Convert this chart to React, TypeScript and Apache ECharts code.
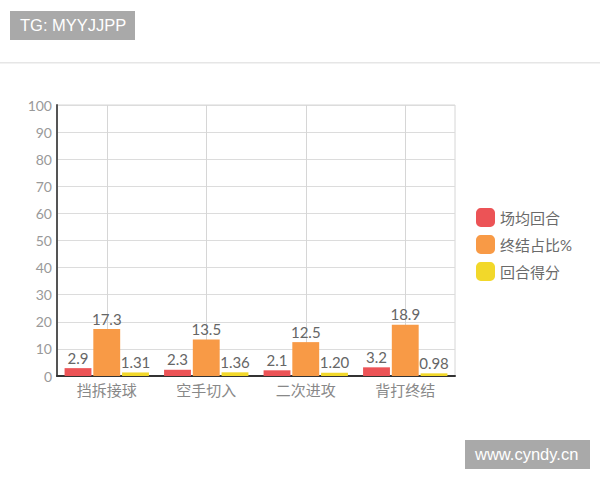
import React, { useEffect, useRef } from "react";
import * as echarts from "echarts";

const categories = ["挡拆接球", "空手切入", "二次进攻", "背打终结"];
const seriesNames = ["场均回合", "终结占比%", "回合得分"];
const roundsPerGame = [2.9, 2.3, 2.1, 3.2];
const finishShare = [17.3, 13.5, 12.5, 18.9];
const pointsPerRound = [1.31, 1.36, 1.2, 0.98];
const colors = ["#ec5356", "#f89a46", "#f2d82a"];
const decimals = [1, 1, 2];

const FONT = "Lato, 'Noto Sans CJK SC', sans-serif";

export default function App() {
  const ref = useRef<HTMLDivElement>(null);
  useEffect(() => {
    if (!ref.current) return;
    const chart = echarts.init(ref.current, undefined, { renderer: "svg" });
    const data = [roundsPerGame, finishShare, pointsPerRound];
    chart.setOption({
      animation: false,
      backgroundColor: "#ffffff",
      textStyle: { fontFamily: FONT },
      graphic: [
        {
          type: "rect",
          left: 10,
          top: 11,
          shape: { width: 125, height: 29 },
          style: { fill: "#a9a9a9" },
        },
        {
          type: "text",
          left: 20,
          top: 16,
          style: {
            text: "TG: MYYJJPP",
            fill: "#ffffff",
            font: "16.5px 'Liberation Sans', Arial, sans-serif",
          },
        },
        {
          type: "rect",
          left: 0,
          top: 62,
          shape: { width: 600, height: 1.5 },
          style: { fill: "#e6e6e6" },
        },
        {
          type: "rect",
          left: 465,
          top: 440,
          shape: { width: 125, height: 29 },
          style: { fill: "#a9a9a9" },
        },
        {
          type: "text",
          left: 475,
          top: 445,
          style: {
            text: "www.cyndy.cn",
            fill: "#ffffff",
            font: "16.5px 'Liberation Sans', Arial, sans-serif",
          },
        },
      ],
      grid: {
        left: 57,
        right: 145,
        top: 105,
        bottom: 104,
        show: true,
        borderColor: "#d6d6d6",
        borderWidth: 1,
      },
      legend: {
        orient: "vertical",
        left: 476,
        top: 208,
        padding: 0,
        itemWidth: 19,
        itemHeight: 19,
        itemGap: 8,
        icon: "roundRect",
        data: seriesNames,
        textStyle: { color: "#6a6a6a", fontSize: 15, fontFamily: FONT },
      },
      xAxis: {
        type: "category",
        data: categories,
        axisLine: { lineStyle: { color: "#333", width: 2 } },
        axisTick: { show: false },
        axisLabel: { color: "#888", fontSize: 15, margin: 6, fontFamily: FONT },
        splitLine: { show: true, alignWithLabel: true, lineStyle: { color: "#d6d6d6" } },
      },
      yAxis: {
        type: "value",
        min: 0,
        max: 100,
        interval: 10,
        axisLine: { show: true, lineStyle: { color: "#555", width: 2 } },
        axisTick: { show: false },
        axisLabel: { color: "#999", fontSize: 14, margin: 5, fontFamily: FONT },
        splitLine: { show: true, lineStyle: { color: "#dcdcdc" } },
      },
      series: seriesNames.map((name, i) => ({
        name,
        type: "bar",
        data: data[i],
        barWidth: "27%",
        barGap: "7%",
        itemStyle: { color: colors[i] },
        label: {
          show: true,
          position: "top",
          distance: 3,
          color: "#666",
          fontSize: 15,
          fontFamily: FONT,
          formatter: (p: any) => Number(p.value).toFixed(decimals[i]),
        },
      })),
    });
    return () => chart.dispose();
  }, []);
  return (
    <div
      ref={ref}
      style={{ position: "absolute", left: 0, top: 0, width: 600, height: 480 }}
    />
  );
}
